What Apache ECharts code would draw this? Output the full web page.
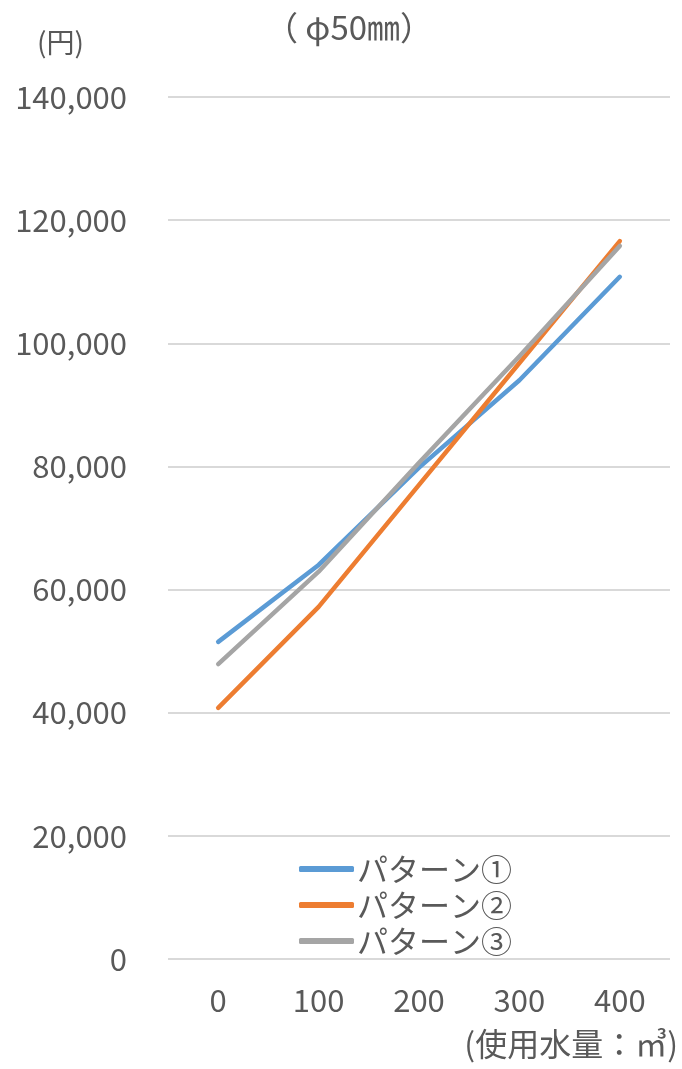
<!DOCTYPE html>
<html>
<head>
<meta charset="utf-8">
<script src="https://cdn.jsdelivr.net/npm/echarts@6/dist/echarts.min.js"></script>
<style>
  html, body { margin: 0; padding: 0; background: #fff; }
  #chart { width: 682px; height: 1069px; }
</style>
</head>
<body>
<div id="chart"></div>
<script>
// Monthly charge by water usage for a φ50mm meter
const categories = ['0', '100', '200', '300', '400'];
const pattern1 = [51500, 64000, 79800, 94000, 110800];
const pattern2 = [40800, 57200, 77000, 96800, 116600];
const pattern3 = [47900, 62900, 80600, 97900, 115800];
const seriesNames = ['パターン①', 'パターン②', 'パターン③'];
const yTicks = { min: 0, max: 140000, interval: 20000 };

const FONT = '"Noto Sans CJK JP", "Noto Sans", sans-serif';
const TEXT = '#595959';

const chart = echarts.init(document.getElementById('chart'), null, { renderer: 'canvas' });

function lineSeries(name, data, color) {
  return {
    name: name,
    type: 'line',
    data: data,
    showSymbol: false,
    symbol: 'none',
    lineStyle: { color: color, width: 4.5, cap: 'round', join: 'round' },
    itemStyle: { color: color }
  };
}

chart.setOption({
  animation: false,
  backgroundColor: '#ffffff',
  textStyle: { fontFamily: FONT },
  title: {
    text: '（ φ50㎜）',
    left: 344,
    top: 6,
    textAlign: 'center',
    textStyle: { fontFamily: FONT, fontSize: 33, fontWeight: 'normal', color: TEXT }
  },
  grid: { left: 168, right: 12, top: 97, bottom: 110, containLabel: false },
  legend: {
    orient: 'vertical',
    left: 294,
    top: 848,
    itemWidth: 55,
    itemHeight: 6,
    itemGap: 4,
    icon: 'roundRect',
    data: seriesNames,
    textStyle: { fontFamily: FONT, fontSize: 31, lineHeight: 32, color: TEXT, padding: [0, 0, 0, -2] }
  },
  xAxis: {
    type: 'category',
    data: categories,
    boundaryGap: true,
    axisLine: { show: false },
    axisTick: { show: false },
    axisLabel: { fontFamily: FONT, fontSize: 31, color: TEXT, margin: 26 }
  },
  yAxis: {
    type: 'value',
    min: yTicks.min,
    max: yTicks.max,
    interval: yTicks.interval,
    axisLine: { show: false },
    axisTick: { show: false },
    splitLine: { lineStyle: { color: '#D9D9D9', width: 2 } },
    axisLabel: {
      fontFamily: FONT, fontSize: 31, color: TEXT, margin: 41,
      formatter: v => v.toLocaleString('en-US')
    }
  },
  graphic: [
    {
      type: 'text', left: 37, top: 28,
      style: { text: '(円)', fontFamily: FONT, fontSize: 28, fill: TEXT }
    },
    {
      type: 'text', right: 4, top: 1028,
      style: { text: '(使用水量：㎥)', fontFamily: FONT, fontSize: 32, fill: TEXT }
    }
  ],
  series: [
    lineSeries(seriesNames[0], pattern1, '#5B9BD5'),
    lineSeries(seriesNames[1], pattern2, '#ED7D31'),
    lineSeries(seriesNames[2], pattern3, '#A5A5A5')
  ]
});
</script>
</body>
</html>
